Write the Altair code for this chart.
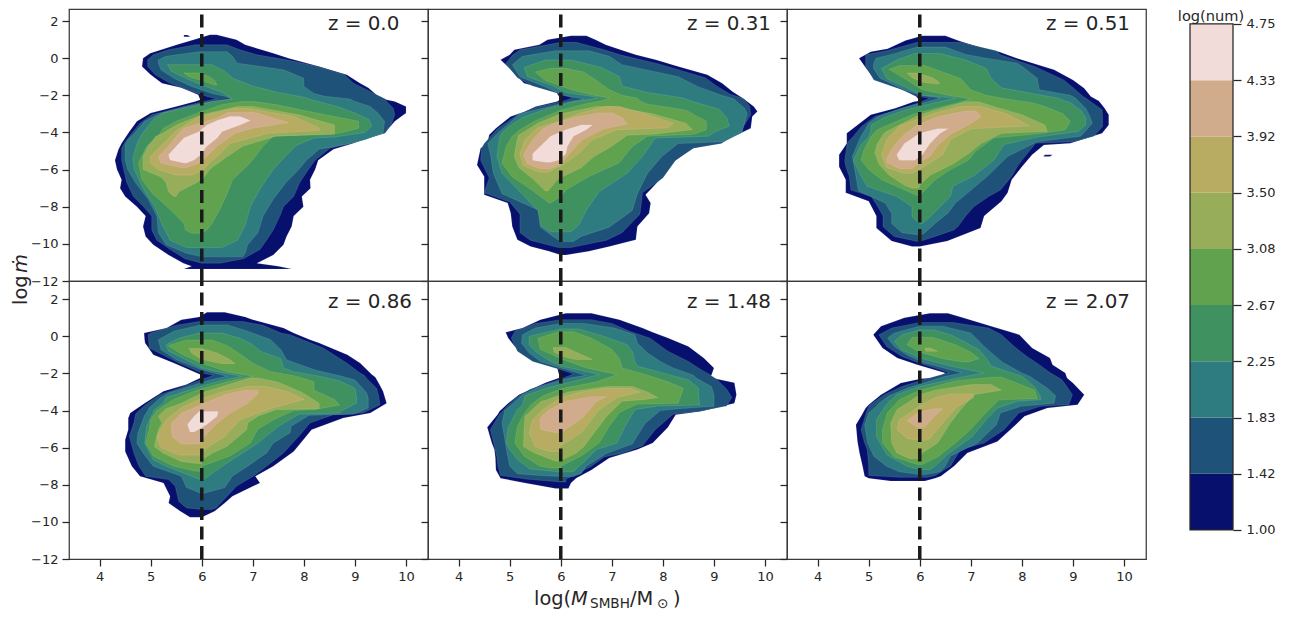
import altair as alt
import pandas as pd

FONT = "DejaVu Sans"
INK = "#262626"
LEVEL_EDGES = [1.0, 1.4167, 1.8333, 2.25, 2.6667, 3.0833, 3.5, 3.9167, 4.3333, 4.75]
LEVEL_COLORS = ["#08106e", "#1f5278", "#2e7c80", "#3f9160", "#60a24e", "#97ad5a", "#b8ab62", "#d0ab8c", "#f1dcd9"]
REDSHIFTS = ["z = 0.0", "z = 0.31", "z = 0.51", "z = 0.86", "z = 1.48", "z = 2.07"]
X_TICKS = [4, 5, 6, 7, 8, 9, 10]
Y_TICKS = [-12, -10, -8, -6, -4, -2, 0, 2]

# Each contour: (level index, [(log mdot, left log M, right log M), ...])
PANEL_0 = [
 (0, [(1.26,6.16,6.29),(.99,5.84,6.68),(.72,5.51,6.85),(.27,4.99,7.4),(0,4.85,7.7),(-.45,4.83,8.3),(-.9,5.0,8.84),(-1.35,5.22,9.1),(-1.6,5.6,9.26),(-1.97,5.93,9.42),(-2.24,5.97,9.62),(-2.33,5.87,9.78),(-2.6,5.5,10.0),(-2.96,5.0,10.0),(-3.4,4.73,9.78),(-4,4.57,9.59),(-4.58,4.43,8.97),(-4.9,4.37,8.58),(-5.5,4.3,8.28),(-6,4.34,8.22),(-6.55,4.43,8.12),(-7,4.4,8.13),(-7.45,4.5,7.96),(-8,4.73,7.99),(-8.5,4.9,7.8),(-9.07,4.85,7.76),(-9.6,4.9,7.66),(-10.05,5.05,7.6),(-10.6,5.35,7.4),(-11.04,5.64,7.08),(-11.2,5.8,7.5),(-11.36,5.65,7.76)]),
 (0, [(1.25,5.65,5.72),(1.15,5.65,5.78)]),
 (1, [(.72,5.87,6.49),(.45,5.35,6.75),(.18,5.05,7.08),(-.09,4.94,7.66),(-.45,4.94,8.28),(-.9,5.09,8.8),(-1.35,5.38,8.97),(-1.7,5.71,9.23),(-2.06,6.1,9.49),(-2.19,6.29,9.58),(-2.33,6.03,9.62),(-2.7,5.51,9.75),(-3.05,5.02,9.78),(-3.5,4.79,9.72),(-4.04,4.63,9.59),(-4.5,4.5,9.03),(-4.85,4.43,8.51),(-5.5,4.43,8.22),(-6,4.47,8.09),(-6.7,4.53,7.92),(-7.45,4.66,7.8),(-8,4.86,7.6),(-8.5,5.02,7.53),(-9.25,5.02,7.4),(-9.8,5.12,7.27),(-10.3,5.38,7.14),(-10.8,5.67,6.82),(-11.04,6.0,6.36)]),
 (2, [(.35,5.95,6.5),(.1,5.3,6.6),(-.1,5.15,6.65),(-.27,5.15,6.7),(-.63,5.2,7.6),(-1.08,5.45,8.0),(-1.52,5.8,8.0),(-1.9,6.2,8.2),(-2.05,6.45,8.4),(-2.2,6.6,8.9),(-2.33,6.2,9.0),(-2.6,5.7,9.3),(-2.96,5.2,9.45),(-3.4,4.88,9.58),(-4.04,4.68,9.55),(-4.4,4.55,9.2),(-4.66,4.5,8.8),(-4.9,4.5,8.3),(-5.5,4.5,8.05),(-6,4.55,7.9),(-6.7,4.7,7.65),(-7.6,4.95,7.4),(-8.5,5.12,7.2),(-9.4,5.15,7.1),(-10.05,5.3,6.9),(-10.5,5.7,6.85),(-10.7,6.0,6.8)]),
 (3, [(-.35,5.33,6.2),(-.7,5.4,6.45),(-1.1,5.7,6.62),(-1.5,6.05,7.0),(-1.85,6.4,7.5),(-2.1,6.54,8.0),(-2.2,6.6,8.1),(-2.35,6.2,8.3),(-2.6,5.8,8.65),(-2.95,5.25,9.0),(-3.3,5.05,9.27),(-3.65,4.95,9.33),(-4.0,4.85,9.2),(-4.25,4.8,8.6),(-4.3,4.78,8.2),(-4.7,4.72,7.85),(-5.4,4.65,7.6),(-6,4.68,7.4),(-7,4.85,7.15),(-8,5.08,6.95),(-9,5.23,6.85),(-9.8,5.38,6.7),(-10.2,5.7,6.4)]),
 (4, [(-.8,5.65,5.95),(-1.0,5.75,6.15),(-1.2,6.0,6.25),(-1.45,6.25,6.3)]),
 (4, [(-2.33,6.8,7.0),(-2.5,6.4,7.45),(-2.87,6.0,8.1),(-3.4,5.5,9.07),(-3.77,5.25,9.07),(-4.05,5.18,8.7),(-4.2,5.15,7.4),(-4.75,4.92,7.2),(-5.65,4.76,6.95),(-6.55,4.83,6.6),(-7.27,5.03,6.5),(-8.17,5.39,6.35),(-8.9,5.65,6.2),(-9.25,5.68,6.1),(-9.43,5.8,6.0)]),
 (5, [(-2.6,6.7,7.0),(-3.05,6.0,7.9),(-3.6,5.5,8.6),(-4.1,5.2,8.6),(-4.2,5.1,7.45),(-4.75,4.95,6.8),(-5.3,4.85,6.5),(-6,4.85,6.15),(-6.4,5.2,6.05),(-6.7,5.3,5.9),(-7.2,5.35,5.55),(-7.45,5.45,5.5)]),
 (6, [(-2.7,6.65,6.9),(-3.14,5.95,7.8),(-3.77,5.58,8.3),(-3.9,5.5,8.3),(-4.05,5.45,7.3),(-4.6,5.25,6.55),(-5.3,4.99,6.3),(-5.65,4.99,6.15),(-6,5.15,6.03),(-6.3,5.5,5.8)]),
 (7, [(-2.93,6.5,7.05),(-3.23,6.3,7.4),(-3.47,6.0,7.7),(-3.77,5.65,7.0),(-4.04,5.55,6.65),(-4.75,5.35,6.3),(-5.3,5.15,6.1),(-5.65,5.2,5.95),(-5.9,5.6,5.7)]),
 (8, [(-3.14,6.55,6.75),(-3.36,6.3,6.95),(-3.6,6.1,6.75),(-3.95,5.95,6.4),(-4.3,5.65,6.3),(-4.75,5.5,6.1),(-5.2,5.35,5.98),(-5.48,5.38,5.85),(-5.65,5.65,5.7)]),
]
PANEL_1 = [
 (0, [(1.2,6.2,6.5),(.99,5.74,6.68),(.72,5.58,6.88),(.45,5.09,7.17),(.18,5.0,7.47),(-.09,4.82,7.86),(-.45,4.96,8.3),(-.9,5.12,8.87),(-1.35,5.28,9.16),(-1.8,5.9,9.36),(-2.2,6.0,9.59),(-2.33,5.93,9.65),(-2.6,5.51,9.78),(-2.87,5.3,9.85),(-3.14,5.02,9.75),(-3.77,4.73,9.72),(-4.13,4.6,9.46),(-4.58,4.56,9.03),(-4.85,4.43,8.58),(-5.75,4.36,8.12),(-6.37,4.5,8.0),(-7.36,4.5,7.66),(-7.8,4.96,7.76),(-8.35,5.02,7.73),(-9.07,5.05,7.5),(-9.78,5.15,7.47),(-10.14,5.41,6.95),(-10.4,5.77,6.55),(-10.6,6.0,6.1)]),
 (1, [(.85,6.0,6.3),(.45,5.2,6.85),(.15,5.05,7.2),(-.3,4.92,7.9),(-1.05,5.15,8.83),(-1.5,5.45,9.05),(-1.95,6.0,9.32),(-2.15,6.23,9.55),(-2.33,6.03,9.63),(-2.6,5.55,9.7),(-3.05,5.15,9.72),(-3.8,4.76,9.55),(-4.6,4.5,9.15),(-4.85,4.45,8.6),(-5.5,4.43,8.25),(-6.45,4.6,8.0),(-7.25,4.5,7.6),(-7.75,5.0,7.58),(-8.4,5.2,7.55),(-9.4,5.2,7.2),(-9.8,5.4,6.9),(-10.2,5.95,6.2)]),
 (2, [(.4,5.9,6.55),(.1,5.25,6.95),(-.35,5.05,7.2),(-1.0,5.2,8.3),(-1.55,5.7,8.7),(-2.0,6.05,9.15),(-2.2,6.45,9.4),(-2.35,6.16,9.45),(-2.7,5.65,9.6),(-3.0,5.2,9.65),(-4.0,4.78,9.55),(-4.5,4.6,9.2),(-4.6,4.57,8.3),(-5.3,4.63,7.98),(-6.2,4.68,7.7),(-7.3,4.85,7.5),(-8.2,5.58,7.4),(-9.1,5.6,6.95),(-9.6,5.85,6.4),(-9.87,6.0,6.25)]),
 (3, [(-.1,5.7,6.2),(-.5,5.28,6.8),(-1.0,5.35,7.15),(-1.5,5.85,7.2),(-1.85,6.1,7.7),(-2.1,6.7,8.3),(-2.15,6.72,8.4),(-2.35,6.25,8.6),(-2.75,5.7,9.1),(-3.2,5.25,9.25),(-3.65,5.0,9.3),(-4.0,4.85,9.0),(-4.2,4.82,8.9),(-4.3,4.8,7.85),(-5.3,4.75,7.6),(-6.2,4.85,7.3),(-7.2,5.2,6.75),(-8.2,5.55,6.5),(-9.0,5.6,6.35),(-9.35,5.8,6.2)]),
 (4, [(-.55,5.8,6.1),(-.75,5.5,6.45),(-1.2,5.7,6.7),(-1.7,6.2,6.95),(-2.0,6.65,7.2),(-2.15,6.95,7.5),(-2.3,6.8,7.55),(-2.45,6.5,7.66),(-2.8,6.0,8.45),(-3.4,5.48,8.85),(-3.85,5.2,8.85),(-4.1,5.1,8.6),(-4.2,5.05,7.7),(-4.76,4.93,7.4),(-5.65,4.85,7.14),(-6.37,5.04,6.55),(-7.1,5.43,6.1),(-7.45,5.6,6.0),(-7.8,5.77,5.8)]),
 (5, [(-2.6,6.7,7.0),(-3.0,6.0,7.8),(-3.5,5.55,8.45),(-3.85,5.35,8.58),(-4.1,5.2,7.8),(-4.15,5.17,7.3),(-4.75,5.12,7.0),(-5.3,5.09,6.65),(-5.9,5.18,6.4),(-6.5,5.45,5.95),(-7.15,5.7,5.75)]),
 (6, [(-2.6,6.9,7.15),(-2.95,6.4,7.6),(-3.5,5.85,8.2),(-3.75,5.55,8.1),(-3.85,5.5,7.1),(-4.4,5.3,6.62),(-5.15,5.2,6.35),(-5.8,5.27,6.0),(-6.15,5.6,5.75)]),
 (7, [(-2.95,6.75,7.0),(-3.2,6.25,7.2),(-3.55,5.85,7.3),(-3.8,5.65,6.85),(-4.4,5.45,6.42),(-5.2,5.27,6.15),(-5.7,5.35,6.0),(-5.95,5.6,5.8)]),
 (8, [(-3.6,6.4,6.62),(-3.85,6.1,6.5),(-4.2,5.8,6.25),(-4.75,5.6,6.13),(-5.15,5.45,6.1),(-5.5,5.45,5.95),(-5.6,5.7,5.8)]),
]
PANEL_2 = [
 (0, [(1.2,6.05,6.5),(.95,5.72,6.75),(.5,5.37,7.26),(.35,5.04,7.55),(0,4.81,7.9),(-.63,4.97,8.63),(-1.17,5.13,9.0),(-1.62,5.6,9.22),(-2.07,5.93,9.35),(-2.3,6.0,9.5),(-2.35,5.88,9.52),(-2.7,5.52,9.62),(-3.05,5.04,9.7),(-3.6,4.78,9.7),(-4.04,4.57,9.57),(-4.58,4.57,8.95),(-4.67,4.55,8.43),(-5.2,4.42,8.2),(-5.85,4.42,8.0),(-6.55,4.55,7.8),(-7.25,4.55,7.72),(-7.7,5.0,7.6),(-8.5,5.15,7.26),(-9.14,5.15,7.19),(-9.85,5.45,6.54),(-10.14,5.85,6.0)]),
 (0, [(-5.2,8.45,8.6),(-5.3,8.42,8.55)]),
 (1, [(.85,5.95,6.8),(.4,5.35,7.5),(.18,4.94,7.58),(-.45,4.94,8.25),(-1.17,5.1,8.82),(-1.7,5.65,9.05),(-2.07,5.97,9.2),(-2.15,6.2,9.25),(-2.35,6.03,9.35),(-2.78,5.57,9.57),(-3.14,5.12,9.58),(-3.68,4.86,9.58),(-4.2,4.7,9.41),(-4.5,4.6,9.02),(-4.58,4.58,8.27),(-5.5,4.53,8.0),(-5.84,4.55,7.91),(-6.37,4.62,7.8),(-7.1,4.65,7.58),(-7.45,5.05,7.35),(-8,5.18,7.06),(-8.5,5.28,6.9),(-9.07,5.28,6.75),(-9.25,5.35,6.67),(-9.6,5.5,6.3),(-9.87,5.95,6.0)]),
 (2, [(.6,5.95,6.5),(.2,5.45,6.9),(0,5.14,7.3),(-.27,5.1,7.91),(-.54,5.09,8.05),(-1.08,5.22,8.3),(-1.7,5.7,8.34),(-2.0,6.02,8.95),(-2.15,6.4,9.05),(-2.35,6.15,9.12),(-2.7,5.63,9.25),(-3.14,5.18,9.33),(-3.5,5.0,9.38),(-4.2,4.85,9.15),(-4.5,4.8,8.3),(-5.3,4.68,7.72),(-6.37,4.75,7.32),(-7.16,4.8,6.98),(-7.8,5.32,6.7),(-8.35,5.45,6.55),(-8.9,5.45,6.3),(-9.4,5.65,6.1),(-9.52,6.0,6.02)]),
 (3, [(.25,5.9,6.4),(-.1,5.55,6.9),(-.55,5.25,7.3),(-1.1,5.35,7.4),(-1.6,5.75,7.6),(-2.0,6.05,8.4),(-2.15,6.7,8.7),(-2.4,6.3,8.95),(-2.8,5.7,9.15),(-3.2,5.3,9.25),(-3.6,5.05,9.25),(-3.95,5.04,9.1),(-4.25,5.0,8.3),(-4.65,4.85,7.65),(-5.5,4.7,7.45),(-6.35,4.85,7.05),(-6.9,4.97,6.65),(-7.45,5.55,6.6),(-8.0,5.85,6.4),(-8.55,5.85,6.2),(-8.9,6.0,6.05)]),
 (4, [(-.4,5.6,6.1),(-.6,5.4,6.3),(-1.1,5.7,6.8),(-1.7,6.05,7.0),(-2.0,6.55,7.3),(-2.2,7.0,7.7),(-2.4,6.75,8.2),(-2.6,6.45,8.45),(-3.0,5.9,8.8),(-3.4,5.55,8.95),(-3.85,5.17,8.85),(-4.05,5.1,8.4),(-4.3,5.03,7.45),(-5.0,4.9,7.1),(-5.5,4.85,6.95),(-6.0,5.0,6.6),(-6.55,5.25,6.3),(-7.4,5.95,6.0)]),
 (5, [(-.8,5.75,5.95),(-1.05,5.85,6.25),(-1.3,6.05,6.38),(-1.38,6.3,6.38)]),
 (5, [(-2.35,6.9,7.15),(-2.6,6.55,7.45),(-3.05,6.0,8.0),(-3.6,5.6,8.45),(-3.95,5.35,8.5),(-4.05,5.3,7.6),(-4.6,5.17,7.2),(-5.1,5.12,6.98),(-5.7,5.2,6.65),(-6.3,5.4,6.2),(-6.85,5.7,6.0),(-7.0,5.85,5.98)]),
 (6, [(-2.6,6.8,7.2),(-3.0,6.25,7.7),(-3.5,5.75,8.05),(-3.65,5.6,8.14),(-3.8,5.55,7.0),(-4.4,5.35,6.6),(-5.2,5.25,6.45),(-5.9,5.35,6.05),(-6.2,5.7,5.85)]),
 (7, [(-2.85,6.9,7.1),(-3.15,6.35,7.2),(-3.6,5.95,6.95),(-4.1,5.7,6.6),(-4.7,5.5,6.35),(-5.3,5.37,6.2),(-5.6,5.35,6.0),(-5.95,5.6,5.85)]),
 (8, [(-3.8,6.35,6.55),(-4.05,6.0,6.4),(-4.6,5.7,6.2),(-5.2,5.55,6.05),(-5.5,5.6,5.9)]),
]
PANEL_3 = [
 (0, [(1.3,6.1,6.45),(1.05,5.95,6.85),(.9,5.6,7.0),(.45,5.31,7.6),(.18,4.87,7.8),(-.18,4.88,8.12),(-.36,4.89,8.3),(-.99,5.05,8.85),(-1.44,5.45,9.1),(-2.06,5.97,9.33),(-2.2,6.0,9.4),(-2.6,5.7,9.48),(-2.96,5.25,9.55),(-3.6,4.88,9.62),(-4.13,4.6,9.3),(-4.4,4.56,8.77),(-5.03,4.56,8.15),(-5.57,4.5,7.99),(-6.2,4.5,7.8),(-7,4.63,7.4),(-7.54,4.79,7.05),(-7.9,5.25,7.14),(-8.62,5.38,6.6),(-8.98,5.35,6.45),(-9.43,5.58,6.25),(-9.75,5.77,6.0)]),
 (1, [(.8,5.95,6.8),(.6,5.5,7.2),(.18,5.0,7.55),(.09,4.95,7.73),(-.63,4.97,8.38),(-1.44,5.55,8.84),(-1.97,6.0,9.1),(-2.1,6.23,9.18),(-2.33,6.0,9.25),(-2.78,5.57,9.42),(-3.14,5.18,9.46),(-3.68,4.9,9.49),(-4.13,4.72,9.16),(-4.22,4.7,8.58),(-4.67,4.67,8.12),(-5.39,4.58,7.9),(-6.28,4.67,7.6),(-7,4.77,7.27),(-7.54,4.9,7.01),(-7.72,5.35,6.9),(-8.08,5.48,6.68),(-8.9,5.55,6.4),(-9.25,5.7,6.28),(-9.33,6.0,6.2)]),
 (2, [(.62,5.98,6.5),(.28,5.45,6.9),(-.18,5.15,7.35),(-.72,5.2,7.55),(-1.26,5.5,7.66),(-1.8,6.0,8.2),(-2.15,6.49,8.74),(-2.35,6.16,9.0),(-2.8,5.65,9.15),(-3.05,5.35,9.23),(-3.32,5.18,9.26),(-3.86,4.97,9.26),(-4.2,4.9,8.97),(-4.25,4.88,8.1),(-4.85,4.8,7.75),(-5.2,4.75,7.73),(-5.75,4.73,7.4),(-6.28,4.85,7.27),(-7,5.05,6.9),(-7.54,5.6,6.6),(-8.15,5.7,6.45),(-8.45,5.98,6.05)]),
 (3, [(.18,5.95,6.4),(-.1,5.55,6.75),(-.45,5.3,7.0),(-.8,5.35,7.15),(-1.2,5.65,7.55),(-1.7,6.0,7.6),(-1.9,6.3,7.8),(-2.15,6.78,8.3),(-2.4,6.35,8.7),(-2.8,5.85,9.0),(-3.3,5.3,9.03),(-3.6,5.25,9.03),(-4.0,5.05,8.75),(-4.13,5.05,8.7),(-4.2,5.03,7.9),(-4.85,4.92,7.5),(-5.75,4.88,7.1),(-6.65,5.05,6.6),(-7.0,5.3,6.4),(-7.7,5.95,6.05)]),
 (4, [(-.2,5.7,6.2),(-.5,5.35,6.5),(-.95,5.6,6.75),(-1.45,6.0,7.0),(-1.9,6.5,7.35),(-2.15,7.0,7.85),(-2.45,6.5,8.2),(-2.9,5.9,8.2),(-3.4,5.45,8.6),(-3.7,5.28,8.7),(-3.95,5.15,8.2),(-4.0,5.12,7.8),(-4.5,5.0,7.4),(-5.0,4.97,7.1),(-5.75,4.9,6.95),(-6.45,5.05,6.55),(-7.0,5.45,6.0),(-7.27,5.9,6.0)]),
 (5, [(-.65,5.75,6.0),(-.9,5.8,6.3),(-1.25,6.0,6.55),(-1.47,6.4,6.65)]),
 (5, [(-2.25,6.95,7.1),(-2.45,6.7,7.47),(-3,6.05,7.95),(-3.6,5.6,8.3),(-3.9,5.3,8.3),(-3.95,5.28,7.45),(-4.3,5.15,7.1),(-4.67,5.22,6.9),(-5.03,5.15,6.88),(-5.93,5.07,6.49),(-6.3,5.25,6.2),(-6.75,5.6,5.95),(-6.85,5.9,6.0)]),
 (6, [(-2.7,6.9,7.25),(-3.0,6.4,7.7),(-3.4,5.95,8.0),(-3.85,5.6,7.4),(-4.5,5.3,6.75),(-5.4,5.12,6.45),(-6.0,5.2,6.1),(-6.4,5.55,5.97)]),
 (7, [(-2.9,6.85,7.1),(-3.1,6.5,7.1),(-3.6,6.05,6.9),(-4.15,5.6,6.55),(-4.7,5.4,6.3),(-5.4,5.42,6.05),(-5.8,5.6,5.95)]),
 (8, [(-4.05,5.95,6.32),(-4.3,5.85,6.3),(-4.75,5.72,6.1),(-5.15,5.77,5.85)]),
]
PANEL_4 = [
 (0, [(1.25,6.1,6.6),(.9,5.6,7.15),(.45,5.25,7.6),(.22,4.92,7.8),(-.09,4.97,8.1),(-.54,5.1,8.5),(-1.17,5.38,8.8),(-1.7,5.93,9.0),(-2.1,5.97,8.95),(-2.2,6.0,8.9),(-2.5,5.7,9.4),(-3.14,5.18,9.44),(-3.6,4.97,9.4),(-4.04,4.8,8.75),(-4.22,4.76,8.25),(-4.9,4.56,8.1),(-5.75,4.65,7.8),(-6.1,4.7,7.5),(-6.55,4.72,6.95),(-7.2,4.73,6.6),(-7.65,4.82,6.3),(-7.9,5.3,6.2),(-8.2,5.9,6.15)]),
 (1, [(.9,6.0,6.6),(.7,5.5,7.0),(.27,5.1,7.35),(-.1,5.03,7.75),(-.8,5.15,8.1),(-1.35,5.45,8.5),(-1.8,6.0,8.75),(-2.03,6.25,8.9),(-2.3,6.0,9.05),(-2.85,5.4,9.25),(-3.3,5.12,9.35),(-3.75,4.95,9.25),(-4.05,4.85,8.7),(-4.2,4.8,8.2),(-5.03,4.62,7.85),(-5.9,4.7,7.6),(-6.3,4.73,7.2),(-6.5,4.75,6.85),(-7.0,4.77,6.6),(-7.5,4.82,6.25),(-7.7,5.35,6.1),(-7.85,6.0,6.1)]),
 (2, [(.7,6.0,6.45),(.45,5.5,7.05),(.09,5.25,7.45),(-.36,5.23,7.5),(-.9,5.38,7.7),(-1.35,5.6,7.95),(-1.7,6.0,8.2),(-2.1,6.49,8.6),(-2.25,6.16,8.65),(-2.7,5.6,8.95),(-3.14,5.25,9.0),(-3.77,5.0,9.0),(-3.9,4.95,8.3),(-4.0,4.9,7.95),(-4.7,4.85,7.65),(-5.8,4.92,7.4),(-6.3,4.95,6.9),(-7.0,5.0,6.5),(-7.4,5.15,6.4),(-7.5,5.6,6.3),(-7.55,6.0,6.25)]),
 (3, [(.4,6.0,6.35),(0,5.38,6.85),(-.45,5.38,7.3),(-.8,5.5,7.4),(-1.35,5.8,7.45),(-1.6,6.0,7.5),(-2.05,6.75,8.1),(-2.35,6.35,8.5),(-2.8,5.7,8.7),(-3.2,5.3,8.7),(-3.7,5.25,8.72),(-3.75,5.24,7.9),(-3.95,5.15,7.45),(-4.9,4.97,7.25),(-5.75,4.93,7.1),(-6.1,5.0,6.7),(-6.65,5.15,6.5),(-7.15,5.4,6.3),(-7.3,5.97,6.25)]),
 (4, [(.25,5.95,6.25),(-.1,5.55,6.6),(-.7,5.6,7.0),(-1.2,6.0,7.15),(-1.7,6.5,7.2),(-2.05,7.1,7.65),(-2.45,6.7,8.1),(-2.8,6.05,8.4),(-3.2,5.65,8.35),(-3.6,5.45,8.3),(-3.65,5.43,7.5),(-4.1,5.3,7.15),(-4.85,5.15,6.95),(-5.75,5.1,6.75),(-6.45,5.28,6.4),(-7.0,5.6,6.0),(-7.1,5.8,6.0)]),
 (5, [(-.6,5.85,6.1),(-.85,5.87,6.3),(-1.1,6.05,6.5),(-1.25,6.3,6.62)]),
 (5, [(-2.7,6.9,7.4),(-3.0,6.15,7.7),(-3.3,5.85,7.9),(-3.4,5.75,7.65),(-3.5,5.62,7.2),(-4.3,5.3,6.9),(-5.03,5.28,6.7),(-5.95,5.27,6.45),(-6.3,5.5,6.3),(-6.73,5.9,5.97)]),
 (6, [(-2.8,6.9,7.35),(-3.0,6.4,7.55),(-3.3,6.0,7.1),(-3.95,5.65,6.75),(-4.5,5.45,6.6),(-5.2,5.38,6.4),(-5.95,5.5,5.97),(-6.2,5.77,5.97)]),
 (7, [(-3.25,6.6,6.9),(-3.5,6.1,6.7),(-4.0,5.75,6.55),(-4.4,5.6,6.42),(-5.0,5.6,6.1),(-5.2,5.9,6.0)]),
]
PANEL_5 = [
 (0, [(1.25,6.2,6.55),(1.0,5.7,6.85),(.54,5.24,7.4),(.09,5.09,7.95),(-.63,5.27,8.2),(-1.17,5.56,8.55),(-1.53,5.95,8.6),(-1.97,6.5,8.85),(-2.21,6.35,8.88),(-2.28,6.02,8.9),(-2.51,5.63,9.0),(-3.14,5.24,9.22),(-3.68,5.0,9.09),(-3.86,4.94,8.5),(-4.31,4.85,8.05),(-4.76,4.75,7.88),(-5.66,4.78,7.52),(-6.28,4.82,6.93),(-7,4.88,6.67),(-7.54,4.92,6.41),(-7.65,5.0,6.3),(-7.8,5.43,6.1)]),
 (1, [(.75,6.0,6.65),(.45,5.45,7.35),(.09,5.2,7.6),(-.55,5.35,7.85),(-1.08,5.65,8.1),(-1.45,6.0,8.3),(-1.95,6.57,8.55),(-2.33,6.08,8.78),(-2.7,5.65,8.88),(-3.14,5.3,8.99),(-3.68,5.03,8.92),(-3.77,5.0,8.37),(-4.13,4.95,7.94),(-5.03,4.85,7.65),(-5.75,4.92,7.26),(-6.1,4.97,6.8),(-7,5.0,6.6),(-7.5,5.0,6.3),(-7.6,5.6,6.15)]),
 (2, [(.55,6.0,6.45),(.18,5.5,7.0),(-.09,5.37,7.1),(-.54,5.5,7.26),(-1.0,5.75,7.45),(-1.4,6.05,7.62),(-1.97,6.83,8.0),(-2.15,6.5,8.15),(-2.8,5.75,8.5),(-3.2,5.4,8.66),(-3.6,5.2,8.63),(-3.77,5.15,7.98),(-4.13,5.0,7.58),(-4.76,4.92,7.5),(-5.75,4.98,7.13),(-6.46,5.1,6.6),(-7.0,5.35,6.5),(-7.3,5.6,6.4),(-7.45,6.0,6.1)]),
 (3, [(.35,6.0,6.28),(.09,5.65,6.6),(-.27,5.5,6.87),(-.72,5.65,7.16),(-1.17,6.0,7.3),(-1.6,6.6,7.4),(-1.97,7.25,7.8),(-2.15,6.9,8.0),(-2.7,6.0,8.24),(-3.14,5.55,8.35),(-3.41,5.45,8.37),(-3.5,5.4,7.91),(-3.86,5.3,7.52),(-4.5,5.15,7.3),(-5.4,5.15,7.03),(-6.37,5.35,6.54),(-7.0,5.75,6.3),(-7.18,6.0,6.2)]),
 (4, [(-.05,5.85,6.25),(-.45,5.75,6.7),(-.85,6.0,7.0),(-1.2,6.45,7.16),(-1.38,6.85,6.95)]),
 (4, [(-2.2,7.4,7.6),(-2.4,6.7,7.8),(-2.9,6.0,8.25),(-3.35,5.65,8.3),(-3.42,5.6,7.55),(-4.1,5.37,7.3),(-5.0,5.27,7.0),(-5.75,5.27,6.7),(-6.5,5.5,6.35),(-6.9,5.95,6.05)]),
 (5, [(-.63,6.1,6.2),(-.8,6.12,6.35)]),
 (5, [(-2.6,7.0,7.4),(-2.9,6.3,7.6),(-3.14,6.0,7.06),(-3.95,5.55,6.8),(-4.67,5.43,6.6),(-5.75,5.45,6.35),(-6.28,5.55,6.05),(-6.6,5.8,6.0)]),
 (6, [(-3.1,6.6,7.05),(-3.3,6.3,7.05),(-3.75,6.0,6.75),(-4.5,5.6,6.5),(-5.0,5.55,6.35),(-5.5,5.75,6.2),(-5.6,6.0,6.1)]),
 (7, [(-3.9,6.25,6.45),(-4.15,5.95,6.35),(-4.55,5.75,6.2),(-4.9,5.95,6.1)]),
]
PANELS = [PANEL_0, PANEL_1, PANEL_2, PANEL_3, PANEL_4, PANEL_5]

X_DOMAIN = [3.4, 10.43]
Y_DOMAINS = [[-12, 2.647], [-12, 2.985]]
HEIGHTS = [272, 278]
WIDTH = 359


def contour_frame(panel):
    rows = []
    for k, (lev, pts) in enumerate(panel):
        for y, a, b in pts:
            rows.append({"poly": f"{k:02d}", "lev": lev, "y": y, "xl": a, "xr": b})
    return pd.DataFrame(rows)


def note(text, px, py, size=19.4, style="normal", angle=0):
    return alt.Chart(pd.DataFrame({"a": [0]})).mark_text(
        font=FONT, fontSize=size, fontStyle=style, color=INK, align="left",
        baseline="alphabetic", angle=angle,
    ).encode(x=alt.value(px), y=alt.value(py), text=alt.value(text))


def panel(i):
    row = i // 3
    col = i % 3
    ydom = Y_DOMAINS[row]
    xscale = alt.Scale(domain=X_DOMAIN, nice=False, zero=False)
    yscale = alt.Scale(domain=ydom, nice=False, zero=False)
    common = dict(grid=False, domain=False, tickSize=7, tickWidth=1.25, tickColor=INK,
                  labelColor=INK, labelFont=FONT, labelFontSize=13, labelPadding=4,
                  labelOverlap=False, labelBound=False, labelFlush=False, title=None)
    xaxis = alt.Axis(values=X_TICKS, format="d", **common) if row == 1 else None
    yaxis = alt.Axis(values=Y_TICKS, format="d", labels=(col == 0), **common)
    levels = list(range(9))
    area = alt.Chart(contour_frame(PANELS[i])).mark_area(
        orient="horizontal", stroke="#ffffff", strokeWidth=0.5, strokeOpacity=0.22
    ).encode(
        x=alt.X("xl:Q", scale=xscale, axis=xaxis),
        x2="xr:Q",
        y=alt.Y("y:Q", scale=yscale, axis=yaxis),
        color=alt.Color("lev:O", scale=alt.Scale(domain=levels, range=LEVEL_COLORS), legend=None),
        detail="poly:N",
    )
    rule = alt.Chart(pd.DataFrame({"x": [6], "y0": [-12], "y1": [ydom[1]]})).mark_rule(
        color="#1a1a1a", strokeWidth=3.5, strokeDash=[13, 6.5]
    ).encode(
        x=alt.X("x:Q", scale=xscale, axis=xaxis),
        y=alt.Y("y0:Q", scale=yscale, axis=yaxis),
        y2="y1:Q",
    )
    tag = alt.Chart(pd.DataFrame({"x": [8.47], "y": [1.85], "t": [REDSHIFTS[i]]})).mark_text(
        font=FONT, fontSize=19.9, color=INK, align="left", baseline="middle"
    ).encode(
        x=alt.X("x:Q", scale=xscale, axis=xaxis),
        y=alt.Y("y:Q", scale=yscale, axis=yaxis),
        text="t:N",
    )
    layers = [area, rule, tag]
    if i == 3:
        layers += [note("log", -42.5, 24, angle=270), note("m\u0307", -42.5, -8, style="italic", angle=270)]
    if i == 4:
        base = 324
        layers += [
            note("log(", 534 - 428, base),
            note("M", 571 - 428, base, style="italic"),
            note("SMBH", 590 - 428, base + 3, size=13.6),
            note("/M", 630 - 428, base),
            note("\u2299", 657 - 428, base + 3, size=13.6),
            note(")", 673 - 428, base),
        ]
    return alt.layer(*layers).properties(
        width=WIDTH, height=HEIGHTS[row],
        view=alt.ViewBackground(stroke="#3a3a3a", strokeWidth=1.25),
    )


grid = alt.concat(*[panel(i) for i in range(6)], columns=3, spacing=0, bounds="flush", align="each")

bar_df = pd.DataFrame({
    "lo": LEVEL_EDGES[:-1], "hi": LEVEL_EDGES[1:], "lev": list(range(9)),
})
bar_scale = alt.Scale(domain=[0.785, 4.861], nice=False, zero=False)
bar_axis = alt.Axis(
    values=LEVEL_EDGES, format=".2f", grid=False, domain=False, orient="right",
    tickSize=8, tickWidth=1.25, tickColor=INK, labelColor=INK, labelFont=FONT,
    labelFontSize=13, labelPadding=5, labelOverlap=False, labelBound=False,
    labelFlush=False, title=None,
)
bar = alt.Chart(bar_df).mark_rect().encode(
    x=alt.value(0), x2=alt.value(43),
    y=alt.Y("lo:Q", scale=bar_scale, axis=bar_axis),
    y2="hi:Q",
    color=alt.Color("lev:O", scale=alt.Scale(domain=list(range(9)), range=LEVEL_COLORS), legend=None),
)
frame = alt.Chart(pd.DataFrame({"lo": [LEVEL_EDGES[0]], "hi": [LEVEL_EDGES[-1]]})).mark_rect(
    fillOpacity=0, stroke=INK, strokeWidth=1.25
).encode(x=alt.value(0), x2=alt.value(43), y=alt.Y("lo:Q", scale=bar_scale, axis=bar_axis), y2="hi:Q")
cap = alt.Chart(pd.DataFrame({"a": [0]})).mark_text(
    font=FONT, fontSize=14.6, color=INK, align="center", baseline="middle"
).encode(x=alt.value(21), y=alt.value(8), text=alt.value("log(num)"))
colorbar = alt.layer(bar, frame, cap).properties(width=43, height=550)

chart = alt.hconcat(grid, colorbar, spacing=30).properties(
    padding={"left": 1, "top": -2, "right": 5, "bottom": 5}
).configure_view(stroke="transparent").resolve_scale(color="independent")

chart.save("out.html", embed_options={"renderer": "svg", "actions": False})
